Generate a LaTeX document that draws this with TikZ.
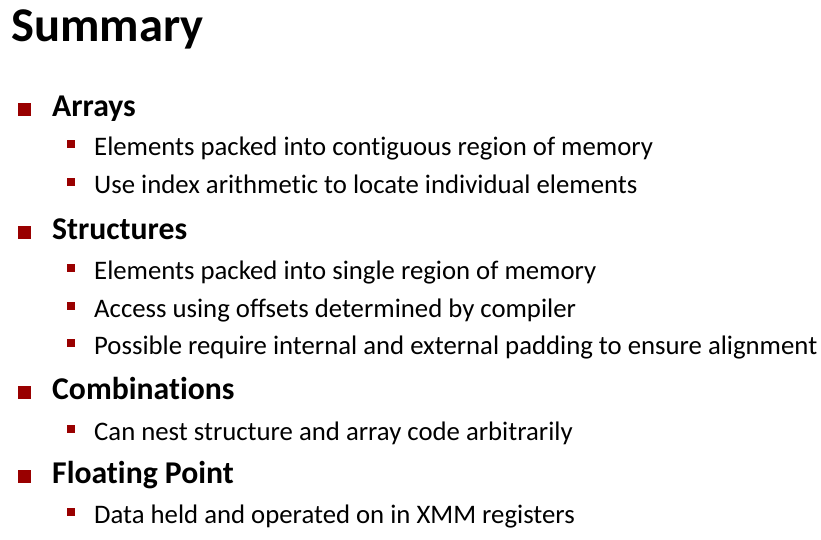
\documentclass[tikz,border=0pt]{standalone}
\usepackage{fontspec}
\setmainfont{Carlito}[Ligatures=NoCommon]
\definecolor{bulletred}{RGB}{153,0,0}
\begin{document}
\begin{tikzpicture}[x=1pt,y=-1pt,
    title/.style={anchor=base west, inner sep=0pt, font=\fontsize{48.5}{58}\selectfont\bfseries},
    topitem/.style={anchor=base west, inner sep=0pt, font=\fontsize{31.7}{38}\selectfont\bfseries},
    subitem/.style={anchor=base west, inner sep=0pt, font=\fontsize{26.75}{32}\selectfont},
    ]
    \useasboundingbox (0, 0) rectangle (821, 539);

    % title
    \node[title] (summary) at (11, 41){Summary};

    % first level, with their big squares
    \foreach \name/\y/\txt in {arr/116/Arrays, str/239/Structures, comb/399/Combinations, fp/483/Floating Point}{
        \fill[bulletred](18, \y-13) rectangle (31, \y);
        \node[topitem] (\name) at (52, \y){\txt};
    }

    % second level, with their small squares
    \foreach \name/\y/\txt in {arrA/155/Elements packed into contiguous region of memory,
                               arrB/193/Use index arithmetic to locate individual elements,
                               strA/279/Elements packed into single region of memory,
                               strB/317/Access using offsets determined by compiler,
                               strC/354/Possible require internal and external padding to ensure alignment,
                               combA/440/Can nest structure and array code arbitrarily,
                               fpA/523/Data held and operated on in XMM registers}{
        \fill[bulletred](67, \y-15) rectangle (75, \y-7);
        \node[subitem] (\name) at (94, \y){\txt};
    }

\end{tikzpicture}
\end{document}
